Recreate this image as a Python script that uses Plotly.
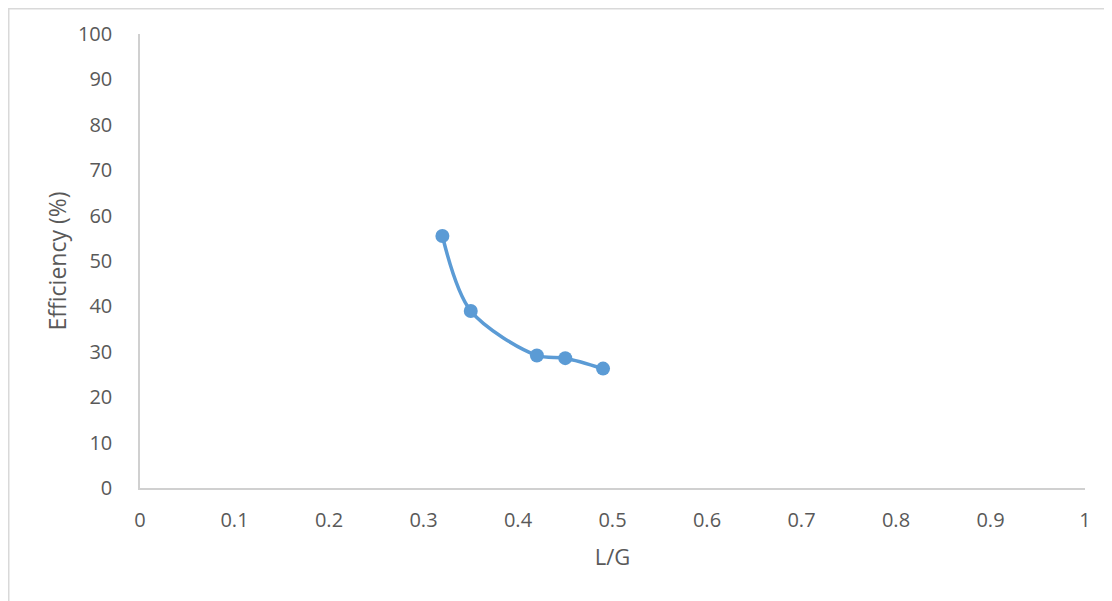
import plotly.graph_objects as go

lg = [0.32, 0.35, 0.42, 0.45, 0.49]
efficiency = [55.5, 39.0, 29.2, 28.6, 26.3]
x_ticks = [0, 0.1, 0.2, 0.3, 0.4, 0.5, 0.6, 0.7, 0.8, 0.9, 1]
y_ticks = [0, 10, 20, 30, 40, 50, 60, 70, 80, 90, 100]

# page body has an 8px margin; figure sized to fit the 1112x601 window
OFF = 8
W, H = 1112 - OFF, 601 - OFF
L, R, T, B = 140 - OFF, 27, 34 - OFF, 113
pw, ph = W - L - R, H - T - B

fig = go.Figure()
fig.add_trace(go.Scatter(
    x=lg, y=efficiency, mode="lines+markers",
    line=dict(color="#5b9bd5", width=3.5, shape="spline", smoothing=0.9),
    marker=dict(color="#5b9bd5", size=14),
    showlegend=False, hoverinfo="x+y",
))

font = dict(family="Open Sans, Liberation Sans, sans-serif", size=20, color="#595959")
fig.update_layout(
    width=W, height=H,
    margin=dict(l=L, r=R, t=T, b=B, pad=0),
    paper_bgcolor="white", plot_bgcolor="white",
    font=font,
    xaxis=dict(
        range=[0, 1], tickvals=x_ticks, ticktext=[f"{v:g}" for v in x_ticks],
        showgrid=False, zeroline=False, showline=True, linecolor="#d0d0d0", linewidth=1.5,
        ticks="", ticklabelstandoff=13,
        title=dict(text="L/G", standoff=18, font=dict(size=22, color="#595959")),
    ),
    yaxis=dict(
        range=[0, 100], tickvals=y_ticks, ticktext=[str(v) for v in y_ticks],
        showgrid=False, zeroline=False, showline=True, linecolor="#d0d0d0", linewidth=1.5,
        ticks="", ticklabelstandoff=22,
        title=dict(text="Efficiency (%)", standoff=5, font=dict(size=23, color="#595959")),
    ),
    shapes=[dict(
        type="rect", xref="paper", yref="paper",
        x0=(0.75 - L) / pw, x1=(W + 20 - L) / pw,
        y0=(H - B - (H + 20)) / ph, y1=(H - B - 0.75) / ph,
        line=dict(color="#d9d9d9", width=1.5), fillcolor="rgba(0,0,0,0)", layer="below",
    )],
)

fig.write_html("out.html")
